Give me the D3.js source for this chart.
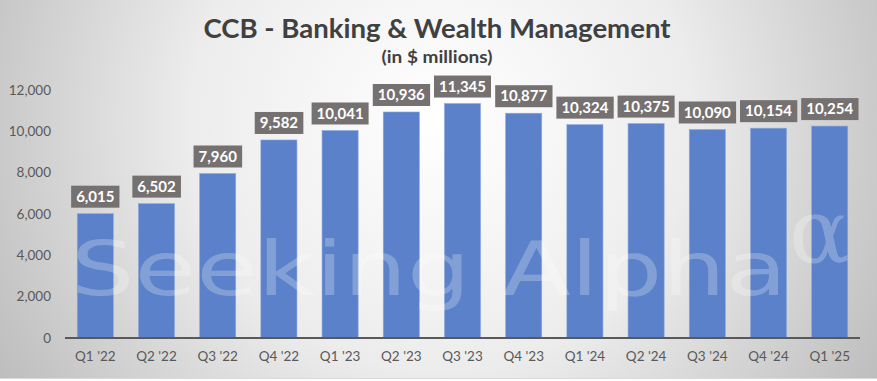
<!DOCTYPE html>
<html>
<head>
<meta charset="utf-8">
<script src="https://cdn.jsdelivr.net/npm/d3@7"></script>
<style>
  html, body { margin: 0; padding: 0; background: #fff; }
  svg { display: block; font-family: Lato, "Open Sans", sans-serif; }
</style>
</head>
<body>
<div id="chart"></div>
<script>
const quarters = ["Q1 '22", "Q2 '22", "Q3 '22", "Q4 '22", "Q1 '23", "Q2 '23", "Q3 '23",
  "Q4 '23", "Q1 '24", "Q2 '24", "Q3 '24", "Q4 '24", "Q1 '25"];
const revenue = [6015, 6502, 7960, 9582, 10041, 10936, 11345, 10877, 10324, 10375, 10090, 10154, 10254];
const yTicks = [0, 2000, 4000, 6000, 8000, 10000, 12000];
const title = "CCB - Banking & Wealth Management";
const subtitle = "(in $ millions)";

const width = 877;
const height = 381;
const data = quarters.map((q, i) => ({ q, value: revenue[i] }));

const svg = d3.select("#chart").append("svg")
  .attr("width", width)
  .attr("height", height);

// background: excel style radial fill
const defs = svg.append("defs");
const grad = defs.append("radialGradient")
  .attr("id", "bg")
  .attr("gradientUnits", "userSpaceOnUse")
  .attr("cx", 440).attr("cy", 120).attr("r", 560);
grad.append("stop").attr("offset", "0%").attr("stop-color", "#ffffff");
grad.append("stop").attr("offset", "45%").attr("stop-color", "#ececec");
grad.append("stop").attr("offset", "100%").attr("stop-color", "#b4b4b4");

svg.append("rect")
  .attr("width", width)
  .attr("height", 378)
  .attr("fill", "url(#bg)");
svg.append("line")
  .attr("x1", 0).attr("x2", width)
  .attr("y1", 378.5).attr("y2", 378.5)
  .attr("stroke", "#d9d9d9");

svg.append("text")
  .attr("x", 437)
  .attr("y", 38)
  .attr("text-anchor", "middle")
  .attr("font-size", 27)
  .attr("font-weight", 700)
  .attr("fill", "#404040")
  .attr("textLength", 467)
  .attr("lengthAdjust", "spacingAndGlyphs")
  .text(title);

svg.append("text")
  .attr("x", 437)
  .attr("y", 63)
  .attr("text-anchor", "middle")
  .attr("font-size", 17)
  .attr("font-weight", 700)
  .attr("fill", "#404040")
  .attr("textLength", 111)
  .attr("lengthAdjust", "spacingAndGlyphs")
  .text(subtitle);

const x = d3.scaleBand()
  .domain(quarters)
  .range([65, 860])
  .paddingInner(0.41)
  .paddingOuter(0.2);

const y = d3.scaleLinear()
  .domain([0, 12000])
  .range([338, 90]);

svg.append("g")
  .attr("transform", "translate(51,0)")
  .call(d3.axisLeft(y).tickValues(yTicks).tickSize(0).tickPadding(0).tickFormat(d3.format(",")))
  .call((g) => g.select(".domain").remove())
  .selectAll("text")
  .attr("font-size", 13.5)
  .attr("font-family", "Lato, sans-serif")
  .attr("fill", "#595959");

svg.selectAll("rect.bar")
  .data(data)
  .enter()
  .append("rect")
  .attr("class", "bar")
  .attr("x", (d) => x(d.q))
  .attr("y", (d) => y(d.value))
  .attr("width", x.bandwidth())
  .attr("height", (d) => y(0) - y(d.value))
  .attr("fill", "#5a81c9")
  .attr("stroke", "#8ea9dc")
  .attr("stroke-width", 0.6);

// watermark
const wm = svg.append("g").attr("fill", "#ffffff").attr("fill-opacity", 0.25)
  .attr("font-family", "'DejaVu Sans', sans-serif");
wm.append("text")
  .attr("x", 71)
  .attr("y", 295)
  .attr("font-size", 75)
  .attr("textLength", 716)
  .attr("lengthAdjust", "spacingAndGlyphs")
  .text("Seeking Alpha");
wm.append("text")
  .attr("x", 789)
  .attr("y", 262)
  .attr("font-size", 90)
  .attr("font-family", "'DejaVu Serif', serif")
  .text("\u03B1");

svg.append("g")
  .attr("transform", "translate(0,338)")
  .call(d3.axisBottom(x).tickSize(0).tickPadding(13))
  .call((g) => g.select(".domain")
    .attr("d", "M65,0H860")
    .attr("stroke", "#595959")
    .attr("stroke-width", 2))
  .selectAll("text")
  .attr("font-size", 13.5)
  .attr("font-family", "Lato, sans-serif")
  .attr("fill", "#595959");

// value labels in dark boxes
const labels = svg.selectAll("g.label")
  .data(data)
  .enter()
  .append("g")
  .attr("class", "label")
  .attr("transform", (d) => `translate(${x(d.q) + x.bandwidth() / 2},${y(d.value) - 17})`);

labels.append("text")
  .attr("text-anchor", "middle")
  .attr("dy", "0.35em")
  .attr("font-size", 15)
  .attr("font-weight", 700)
  .attr("fill", "#ffffff")
  .text((d) => d3.format(",")(d.value));

labels.each(function () {
  const g = d3.select(this);
  const bb = g.select("text").node().getBBox();
  g.insert("rect", "text")
    .attr("x", bb.x - 5)
    .attr("y", -11)
    .attr("width", bb.width + 10)
    .attr("height", 22)
    .attr("fill", "#767171");
});
</script>
</body>
</html>
